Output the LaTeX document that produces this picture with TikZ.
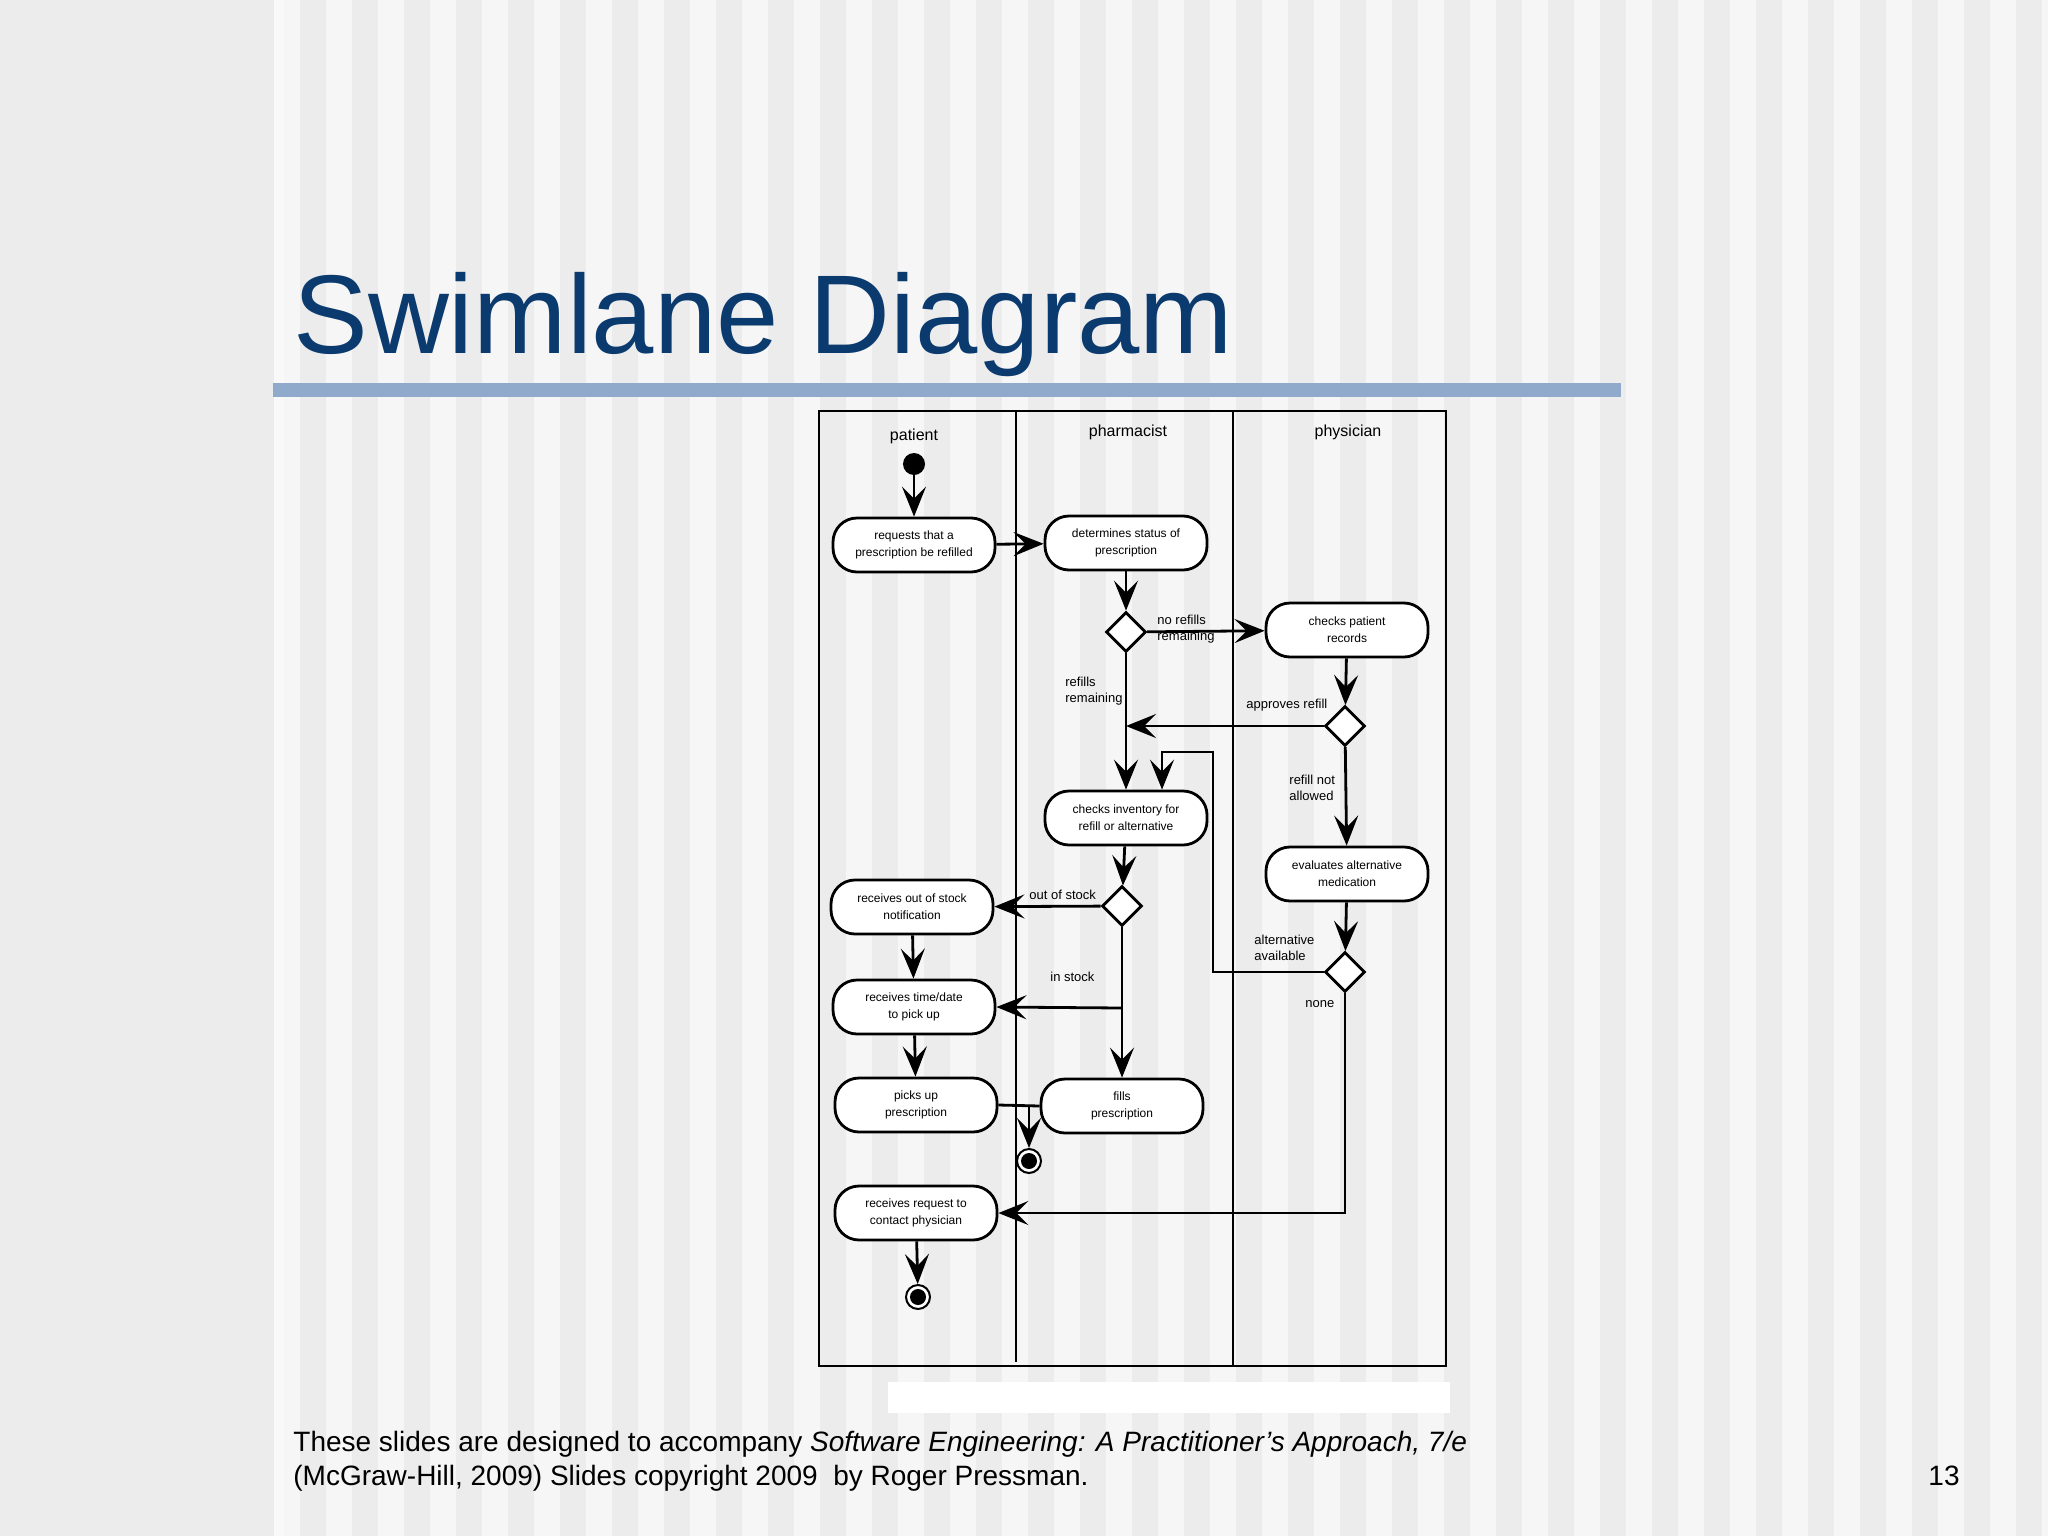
\documentclass[tikz,border=0pt]{standalone}
\usepackage{fontspec}
\setmainfont{Liberation Sans}
\usetikzlibrary{arrows.meta,shapes.geometric}
\definecolor{titleblue}{HTML}{0B3A6E}
\definecolor{barblue}{HTML}{8FAACB}
\definecolor{bgA}{HTML}{ECECEC}
\definecolor{bgB}{HTML}{F6F6F6}
\begin{document}
\begin{tikzpicture}[x=0.5pt,y=-0.5pt,
  act/.style={draw,line width=1.4pt,fill=white,rounded corners=12pt,minimum width=81pt,minimum height=27pt,align=center,font=\fontsize{6}{8.5}\selectfont,inner sep=1pt},
  dec/.style={draw,line width=1.4pt,fill=white,diamond,minimum size=20pt,inner sep=0pt},
  arr/.style={line width=1.4pt,-{Stealth[length=15pt,width=12pt,inset=6pt]}},
  ln/.style={line width=1.4pt},
  lbl/.style={font=\fontsize{6.5}{8}\selectfont,align=left,inner sep=0pt},
  lane/.style={font=\fontsize{8}{10}\selectfont},
  endnode/.style={circle,draw,line width=1pt,fill=white,minimum size=12pt,inner sep=0pt,path picture={\fill[black] (path picture bounding box.center) circle (4pt);}}]
\useasboundingbox (0,0) rectangle (2048,1536);
\fill[bgA] (0,0) rectangle (2048,1536);
\foreach \i in {0,...,34} {\fill[bgB] (274+\i*52,0) rectangle (300+\i*52,1536);}
\fill[white!70!bgA] (274,0) rectangle (284,1536);
\node[anchor=base west,inner sep=0pt,text=titleblue,font=\fontsize{56}{60}\selectfont] (title) at (293,353) {Swimlane Diagram};
\fill[barblue] (273,383) rectangle (1621,397);
\draw[line width=1.4pt] (819,411) rectangle (1446,1366);
\draw[line width=1.4pt] (1016,411) -- (1016,1362);
\draw[line width=1.4pt] (1233,411) -- (1233,1366);
\fill[white] (888,1382) rectangle (1450,1413);
\node[lane] (lp) at (914,436) {patient};
\node[lane] (lh) at (1128,432) {pharmacist};
\node[lane] (ly) at (1348,432) {physician};
\node[circle,fill=black,minimum size=11pt,inner sep=0pt] (start) at (914,464) {};
\node[act] (A) at (914,545) {requests that a\\prescription be refilled};
\node[act] (B) at (1126,543) {determines status of\\prescription};
\node[dec] (D1) at (1126,632) {};
\node[act] (C) at (1347,630) {checks patient\\records};
\node[dec] (D2) at (1345,726) {};
\node[act] (E) at (1126,818) {checks inventory for\\refill or alternative};
\node[act] (F) at (1347,874) {evaluates alternative\\medication};
\node[dec] (D3) at (1122,906) {};
\node[dec] (D4) at (1345,972) {};
\node[act] (G) at (912,907) {receives out of stock\\notification};
\node[act] (H) at (914,1007) {receives time/date\\to pick up};
\node[act] (I) at (916,1105) {picks up\\prescription};
\node[act] (J) at (1122,1106) {fills\\prescription};
\node[endnode] (f1) at (1029,1161) {};
\node[act] (K) at (916,1213) {receives request to\\contact physician};
\node[endnode] (f2) at (918,1297) {};
\coordinate (c1) at (1213,752);
\coordinate (c2) at (1162,752);
\coordinate (j1) at (1029,1105);
\coordinate (b1) at (1122,1008);
\draw[arr] (start) -- (A);
\draw[arr] (A) -- (B);
\draw[arr] (B) -- (D1);
\draw[arr] (D1) -- (C);
\draw[arr] (D1) -- (D1 |- E.north);
\draw[arr] (C) -- (D2);
\draw[arr] (D2) -- (D1 |- D2);
\draw[arr] (D2) -- (F);
\draw[arr] (F) -- (D4);
\draw[arr] (D4.west) -| (c1) -- (c2) -- (c2 |- E.north);
\draw[arr] (D4.south) |- (K.east);
\draw[arr] (E) -- (D3);
\draw[arr] (D3) -- (G);
\draw[arr] (D3.south) -- (D3 |- J.north);
\draw[arr] (b1) -- (H.east);
\draw[arr] (G) -- (H);
\draw[arr] (H) -- (I);
\draw[ln] (I.east) -- (J.west);
\draw[arr] (j1) -- (f1);
\draw[arr] (K) -- (f2);
\node[lbl,anchor=west] (l1) at (1157,629) {no refills\\remaining};
\node[lbl,anchor=west] (l2) at (1065,691) {refills\\remaining};
\node[lbl,anchor=west] (l3) at (1246,705) {approves refill};
\node[lbl,anchor=west] (l4) at (1289,788) {refill not\\allowed};
\node[lbl,anchor=west] (l5) at (1254,948) {alternative\\available};
\node[lbl,anchor=west] (l6) at (1305,1004) {none};
\node[lbl,anchor=west] (l7) at (1029,895) {out of stock};
\node[lbl,anchor=west] (l8) at (1050,977) {in stock};
\node[anchor=base west,inner sep=0pt,align=left,font=\fontsize{14}{22}\selectfont] (foot) at (293,1451) {These slides are designed to accompany \textit{Software Engineering: A Practitioner’s Approach, 7/e}};
\node[anchor=base west,inner sep=0pt,font=\fontsize{14}{22}\selectfont] (foot2) at (293,1485) {(McGraw-Hill, 2009) Slides copyright 2009\ \ by Roger Pressman.};
\node[anchor=base east,inner sep=0pt,font=\fontsize{14}{22}\selectfont] (pg) at (1960,1485) {13};
\end{tikzpicture}
\end{document}
